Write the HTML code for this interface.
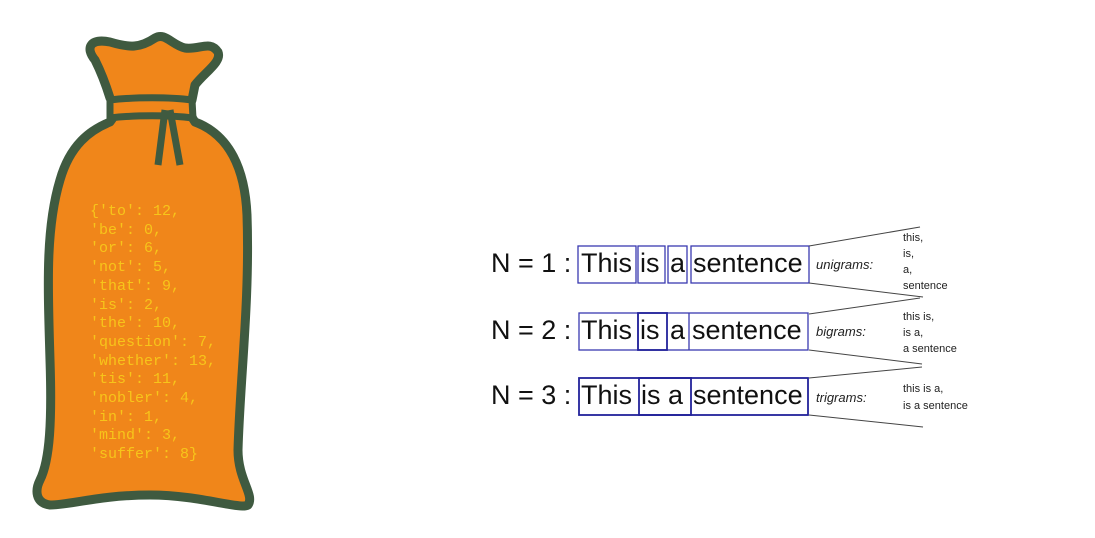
<!DOCTYPE html>
<html><head><style>
html,body{margin:0;padding:0;background:#fff;width:1095px;height:538px;overflow:hidden;position:relative;font-family:"Liberation Sans",sans-serif}
.code{position:absolute;left:90px;top:203px;font-family:"Liberation Mono",monospace;font-size:15px;line-height:18.7px;color:#f7c51a;white-space:pre}
.n{position:absolute;left:491px;font-size:27px;color:#111}
.w{position:absolute;font-size:27px;color:#111}
.lab{position:absolute;left:816px;font-size:13px;font-style:italic;color:#222}
.r{position:absolute;left:903px;font-size:11px;line-height:16px;color:#222}
</style></head><body>
<svg width="1095" height="538" style="position:absolute;left:0;top:0">
<path d="M95,60 C85,48 90,38 110,42 C130,48 140,48 155,38 C165,32 172,45 185,48 C200,50 210,40 218,52 C222,62 205,72 195,85 L192,100 C188,108 190,115 195,122 C230,135 245,170 247,215 C250,300 240,380 238,450 C238,480 255,495 248,505 C240,510 200,495 150,495 C100,495 70,505 50,505 C35,503 35,490 40,480 C50,460 52,420 50,360 C48,290 45,230 60,180 C70,145 90,130 110,122 C116,115 116,105 110,98 C105,82 100,70 95,60 Z" fill="#f0861a" stroke="#3f5a40" stroke-width="9" stroke-linejoin="round"/>
<path d="M110,100 C135,97 170,97 192,100 L193,118 C170,115 135,115 110,118 Z" fill="#f0861a" stroke="#3f5a40" stroke-width="7"/>
<path d="M165,110 L158,165 M170,110 L180,165" stroke="#3f5a40" stroke-width="7" fill="none"/>
<g stroke="#3a3ab0" stroke-width="1.3" fill="none">
<rect x="578" y="246" width="58" height="37"/><rect x="638" y="246" width="27" height="37"/><rect x="668" y="246" width="19" height="37"/><rect x="691" y="246" width="118" height="37"/>
<rect x="579" y="313" width="229" height="37"/><line x1="638" y1="313" x2="638" y2="350"/><rect x="638" y="313" width="29" height="37" stroke="#22229a" stroke-width="1.8"/><line x1="689" y1="313" x2="689" y2="350"/>
<rect x="579" y="378" width="229" height="37" stroke="#22229a" stroke-width="1.8"/><rect x="639" y="378" width="52" height="37" stroke="#22229a" stroke-width="1.8"/>
</g>
<g stroke="#444" stroke-width="1">
<line x1="809" y1="246" x2="920" y2="227"/><line x1="809" y1="283" x2="923" y2="297"/>
<line x1="809" y1="314" x2="920" y2="298"/><line x1="809" y1="350" x2="922" y2="364"/>
<line x1="809" y1="378" x2="922" y2="367"/><line x1="809" y1="415" x2="923" y2="427"/>
</g>
</svg>
<div class="code">{'to': 12,
'be': 0,
'or': 6,
'not': 5,
'that': 9,
'is': 2,
'the': 10,
'question': 7,
'whether': 13,
'tis': 11,
'nobler': 4,
'in': 1,
'mind': 3,
'suffer': 8}</div>
<div class="n" style="top:248px">N = 1 :</div>
<div class="n" style="top:315px">N = 2 :</div>
<div class="n" style="top:380px">N = 3 :</div>
<div class="w" style="left:581px;top:248px">This</div><div class="w" style="left:640px;top:248px">is</div><div class="w" style="left:670px;top:248px">a</div><div class="w" style="left:693px;top:248px">sentence</div>
<div class="w" style="left:581px;top:315px">This</div><div class="w" style="left:640px;top:315px">is</div><div class="w" style="left:670px;top:315px">a</div><div class="w" style="left:692px;top:315px">sentence</div>
<div class="w" style="left:581px;top:380px">This</div><div class="w" style="left:641px;top:380px">is a</div><div class="w" style="left:693px;top:380px">sentence</div>
<div class="lab" style="top:257px">unigrams:</div>
<div class="lab" style="top:324px">bigrams:</div>
<div class="lab" style="top:390px">trigrams:</div>
<div class="r" style="top:230px">this,<br>is,<br>a,<br>sentence</div>
<div class="r" style="top:309px">this is,<br>is a,<br>a sentence</div>
<div class="r" style="top:381px;line-height:17px">this is a,<br>is a sentence</div>
</body></html>
